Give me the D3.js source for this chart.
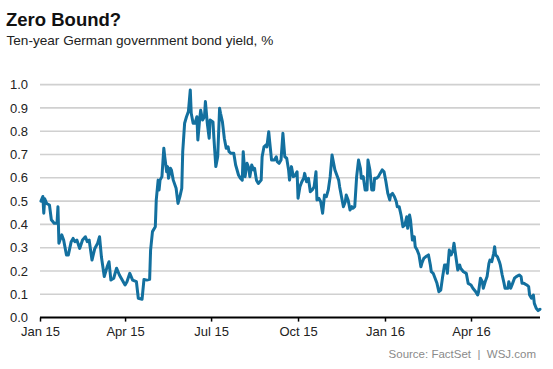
<!DOCTYPE html>
<html>
<head>
<meta charset="utf-8">
<script src="https://cdn.jsdelivr.net/npm/d3@7"></script>
<style>
  html, body { margin: 0; padding: 0; background: #fff; }
  svg { display: block; }
  text { font-family: "Liberation Sans", Arial, sans-serif; }
</style>
</head>
<body>
<svg id="chart" width="553" height="369"></svg>
<script>
// ---- Data ----
const titleText = "Zero Bound?";
const subtitleText = "Ten-year German government bond yield, %";
const sourceText = "Source: FactSet  |  WSJ.com";

const yTicks = [0.0, 0.1, 0.2, 0.3, 0.4, 0.5, 0.6, 0.7, 0.8, 0.9, 1.0];
const xTickDates = ["2015-01-01", "2015-04-01", "2015-07-01", "2015-10-01", "2016-01-01", "2016-04-01"];
const xTickLabels = ["Jan 15", "Apr 15", "Jul 15", "Oct 15", "Jan 16", "Apr 16"];
const xDomain = ["2015-01-01", "2016-06-13"];

const dates = [
  "2015-01-02","2015-01-04","2015-01-05","2015-01-06","2015-01-08","2015-01-11","2015-01-13","2015-01-16","2015-01-19","2015-01-20",
  "2015-01-21","2015-01-24","2015-01-26","2015-01-29","2015-01-31","2015-02-03","2015-02-05","2015-02-07","2015-02-09","2015-02-12",
  "2015-02-15","2015-02-18","2015-02-20","2015-02-22","2015-02-25","2015-02-28","2015-03-03","2015-03-05","2015-03-07","2015-03-10",
  "2015-03-13","2015-03-15","2015-03-17","2015-03-20","2015-03-23","2015-03-26","2015-03-29","2015-04-01","2015-04-03","2015-04-06",
  "2015-04-09","2015-04-13","2015-04-15","2015-04-19","2015-04-21","2015-04-24","2015-04-27","2015-04-28","2015-04-30","2015-05-03",
  "2015-05-04","2015-05-06","2015-05-07","2015-05-08","2015-05-10","2015-05-12","2015-05-13","2015-05-15","2015-05-16","2015-05-17",
  "2015-05-19","2015-05-20","2015-05-22","2015-05-25","2015-05-27","2015-05-29","2015-05-31","2015-06-01","2015-06-03","2015-06-05",
  "2015-06-07","2015-06-09","2015-06-10","2015-06-12","2015-06-14","2015-06-16","2015-06-17","2015-06-19","2015-06-20","2015-06-22",
  "2015-06-24","2015-06-25","2015-06-27","2015-06-29","2015-06-30","2015-07-03","2015-07-04","2015-07-06","2015-07-08","2015-07-10",
  "2015-07-11","2015-07-13","2015-07-15","2015-07-17","2015-07-19","2015-07-20","2015-07-22","2015-07-25","2015-07-27","2015-07-28",
  "2015-07-30","2015-08-01","2015-08-03","2015-08-04","2015-08-06","2015-08-08","2015-08-10","2015-08-11","2015-08-13","2015-08-15",
  "2015-08-16","2015-08-18","2015-08-20","2015-08-23","2015-08-24","2015-08-26","2015-08-28","2015-08-29","2015-08-31","2015-09-01",
  "2015-09-03","2015-09-06","2015-09-08","2015-09-09","2015-09-11","2015-09-13","2015-09-15","2015-09-17","2015-09-19","2015-09-21",
  "2015-09-22","2015-09-24","2015-09-26","2015-09-28","2015-09-30","2015-10-01","2015-10-03","2015-10-05","2015-10-07","2015-10-08",
  "2015-10-10","2015-10-12","2015-10-14","2015-10-16","2015-10-18","2015-10-20","2015-10-21","2015-10-23","2015-10-25","2015-10-27",
  "2015-10-29","2015-10-31","2015-11-02","2015-11-04","2015-11-06","2015-11-07","2015-11-09","2015-11-11","2015-11-13","2015-11-14",
  "2015-11-16","2015-11-18","2015-11-20","2015-11-21","2015-11-23","2015-11-25","2015-11-27","2015-11-28","2015-11-30","2015-12-02",
  "2015-12-04","2015-12-06","2015-12-07","2015-12-09","2015-12-11","2015-12-13","2015-12-14","2015-12-16","2015-12-18","2015-12-20",
  "2015-12-21","2015-12-23","2015-12-25","2015-12-27","2015-12-29","2015-12-31","2016-01-02","2016-01-04","2016-01-06","2016-01-07",
  "2016-01-09","2016-01-11","2016-01-13","2016-01-14","2016-01-16","2016-01-18","2016-01-20","2016-01-22","2016-01-24","2016-01-25",
  "2016-01-27","2016-01-28","2016-01-30","2016-02-01","2016-02-02","2016-02-04","2016-02-06","2016-02-08","2016-02-09","2016-02-11",
  "2016-02-13","2016-02-16","2016-02-18","2016-02-19","2016-02-21","2016-02-23","2016-02-25","2016-02-27","2016-02-29","2016-03-02",
  "2016-03-04","2016-03-06","2016-03-07","2016-03-09","2016-03-11","2016-03-13","2016-03-14","2016-03-16","2016-03-18","2016-03-20",
  "2016-03-21","2016-03-24","2016-03-27","2016-03-29","2016-04-01","2016-04-03","2016-04-06","2016-04-08","2016-04-09","2016-04-11",
  "2016-04-13","2016-04-14","2016-04-16","2016-04-18","2016-04-20","2016-04-21","2016-04-23","2016-04-25","2016-04-26","2016-04-27",
  "2016-04-29","2016-05-01","2016-05-02","2016-05-04","2016-05-06","2016-05-07","2016-05-10","2016-05-11","2016-05-13","2016-05-15",
  "2016-05-17","2016-05-19","2016-05-22","2016-05-24","2016-05-25","2016-05-27","2016-05-30","2016-06-01","2016-06-02","2016-06-04",
  "2016-06-06","2016-06-07","2016-06-09","2016-06-11","2016-06-13"
];

const yields = [
  0.500,0.520,0.448,0.510,0.490,0.483,0.420,0.405,0.405,0.476,
  0.319,0.355,0.333,0.269,0.269,0.326,0.340,0.326,0.333,0.297,
  0.333,0.347,0.326,0.333,0.247,0.297,0.319,0.347,0.260,0.176,
  0.218,0.240,0.161,0.169,0.212,0.183,0.161,0.140,0.154,0.190,
  0.161,0.154,0.083,0.079,0.164,0.161,0.164,0.290,0.369,0.390,
  0.505,0.590,0.548,0.590,0.605,0.727,0.690,0.626,0.648,0.598,
  0.641,0.634,0.590,0.555,0.490,0.519,0.555,0.712,0.834,0.862,
  0.884,0.977,0.877,0.834,0.834,0.862,0.762,0.855,0.890,0.848,
  0.862,0.927,0.834,0.770,0.848,0.840,0.770,0.648,0.690,0.898,
  0.877,0.840,0.770,0.727,0.733,0.712,0.705,0.705,0.655,0.641,
  0.612,0.598,0.590,0.712,0.605,0.662,0.641,0.605,0.655,0.634,
  0.641,0.590,0.576,0.590,0.690,0.733,0.741,0.733,0.798,0.755,
  0.676,0.676,0.690,0.669,0.662,0.676,0.791,0.690,0.684,0.634,
  0.590,0.648,0.605,0.610,0.626,0.512,0.562,0.583,0.598,0.619,
  0.583,0.598,0.540,0.548,0.562,0.626,0.505,0.512,0.497,0.448,
  0.526,0.519,0.548,0.605,0.698,0.676,0.634,0.612,0.590,0.562,
  0.519,0.476,0.497,0.526,0.505,0.462,0.476,0.469,0.476,0.605,
  0.676,0.641,0.598,0.605,0.548,0.548,0.676,0.634,0.548,0.548,
  0.598,0.598,0.605,0.620,0.634,0.626,0.583,0.533,0.505,0.526,
  0.533,0.519,0.497,0.476,0.476,0.440,0.390,0.397,0.433,0.383,
  0.440,0.419,0.333,0.347,0.304,0.290,0.269,0.218,0.233,0.254,
  0.261,0.269,0.226,0.197,0.190,0.169,0.147,0.111,0.118,0.176,
  0.226,0.226,0.190,0.290,0.269,0.290,0.319,0.261,0.204,0.226,
  0.212,0.197,0.190,0.147,0.140,0.126,0.111,0.097,0.111,0.169,
  0.154,0.126,0.154,0.176,0.233,0.247,0.240,0.276,0.304,0.269,
  0.261,0.240,0.226,0.183,0.147,0.126,0.126,0.154,0.126,0.147,
  0.169,0.176,0.183,0.176,0.147,0.147,0.140,0.133,0.097,0.083,
  0.097,0.061,0.040,0.030,0.036
];

// ---- Chart ----
(function () {
  const parse = d3.utcParse("%Y-%m-%d");
  const data = dates.map((d, i) => ({ date: parse(d), value: yields[i] }));

  const svg = d3.select("#chart");
  const plotLeft = 40, plotRight = 540, plotTop = 84.6, plotBottom = 317.6;

  const x = d3.scaleUtc().domain(xDomain.map(parse)).range([plotLeft, plotRight]);
  const y = d3.scaleLinear().domain([0, 1]).range([plotBottom, plotTop]);

  // Title & subtitle
  svg.append("text").attr("x", 6).attr("y", 26)
    .attr("font-size", 18.5).attr("font-weight", "bold").attr("fill", "#111")
    .text(titleText);
  svg.append("text").attr("x", 6.5).attr("y", 44.5)
    .attr("font-size", 13.6).attr("fill", "#222")
    .text(subtitleText);

  // Grid lines
  svg.append("g").selectAll("line")
    .data(yTicks.filter(t => t > 0))
    .join("line")
    .attr("x1", plotLeft).attr("x2", plotRight)
    .attr("y1", d => y(d)).attr("y2", d => y(d))
    .attr("stroke", "#d0d0d0").attr("stroke-width", 1.6);

  // Y labels
  svg.append("g").selectAll("text")
    .data(yTicks)
    .join("text")
    .attr("x", 10).attr("y", d => y(d))
    .attr("dy", "0.36em")
    .attr("font-size", 13).attr("fill", "#222")
    .text(d => d3.format(".1f")(d));

  // Line
  const line = d3.line()
    .x(d => x(d.date))
    .y(d => y(d.value))
    .curve(d3.curveLinear);

  svg.append("path")
    .datum(data)
    .attr("fill", "none")
    .attr("stroke", "#13709f")
    .attr("stroke-width", 3)
    .attr("stroke-linejoin", "round")
    .attr("stroke-linecap", "round")
    .attr("d", line);

  // X axis
  const xAxis = d3.axisBottom(x)
    .tickValues(xTickDates.map(parse))
    .tickFormat((d, i) => xTickLabels[i])
    .tickSize(4)
    .tickPadding(5);

  const gx = svg.append("g").attr("transform", `translate(0,${plotBottom})`).call(xAxis);
  gx.select(".domain").attr("stroke", "#000").attr("stroke-width", 2).attr("d", `M${plotLeft},0H${plotRight}`);
  gx.selectAll(".tick line").attr("stroke", "#000").attr("stroke-width", 1.5);
  gx.selectAll(".tick text")
    .attr("font-size", 13).attr("fill", "#222")
    .attr("font-family", "'Liberation Sans', Arial, sans-serif");

  // Source
  svg.append("text").attr("x", 536).attr("y", 358)
    .attr("text-anchor", "end")
    .attr("font-size", 11.5).attr("fill", "#8a8a8a")
    .style("white-space", "pre")
    .text(sourceText);
})();
</script>
</body>
</html>
